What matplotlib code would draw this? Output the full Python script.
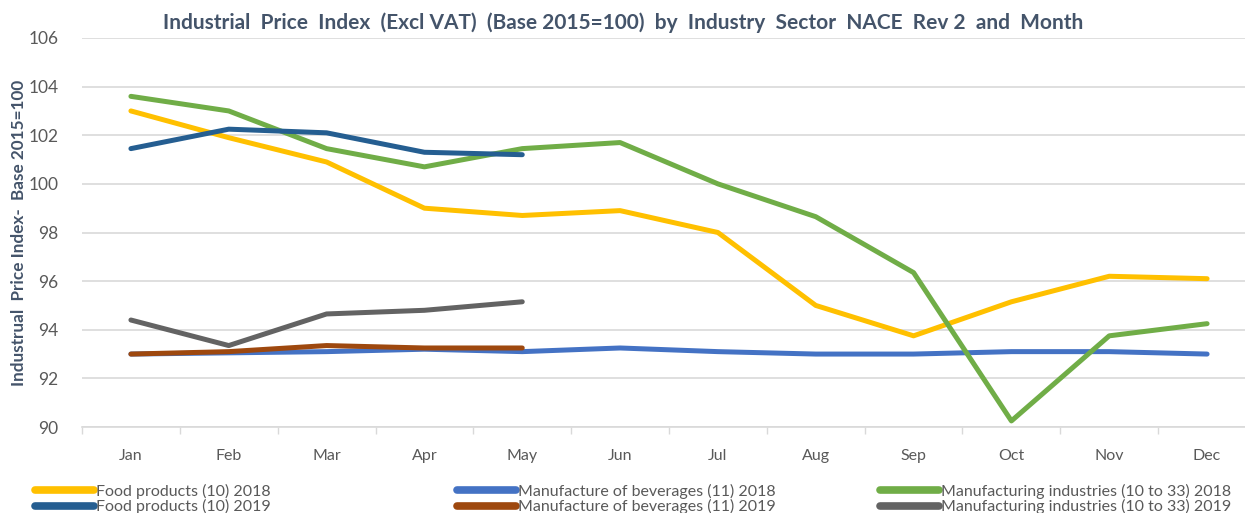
import matplotlib.pyplot as plt
import numpy as np
from matplotlib.lines import Line2D

plt.rcParams['font.family'] = ['Lato', 'DejaVu Sans']

months = ["Jan", "Feb", "Mar", "Apr", "May", "Jun", "Jul", "Aug", "Sep", "Oct", "Nov", "Dec"]

food_2018 = [103.0, 101.9, 100.9, 99.0, 98.7, 98.9, 98.0, 95.0, 93.75, 95.15, 96.2, 96.1]
bev_2018 = [93.0, 93.05, 93.1, 93.2, 93.1, 93.25, 93.1, 93.0, 93.0, 93.1, 93.1, 93.0]
manu_2018 = [103.6, 103.0, 101.45, 100.7, 101.45, 101.7, 100.0, 98.65, 96.35, 90.25, 93.75, 94.25]
food_2019 = [101.45, 102.25, 102.1, 101.3, 101.2]
bev_2019 = [93.0, 93.1, 93.35, 93.25, 93.25]
manu_2019 = [94.4, 93.35, 94.65, 94.8, 95.15]

series = [
    ("Food products (10) 2018", food_2018, "#FFC000"),
    ("Food products (10) 2019", food_2019, "#255E91"),
    ("Manufacture of beverages (11) 2018", bev_2018, "#4472C4"),
    ("Manufacture of beverages (11) 2019", bev_2019, "#9E480E"),
    ("Manufacturing industries (10 to 33) 2018", manu_2018, "#70AD47"),
    ("Manufacturing industries (10 to 33) 2019", manu_2019, "#636363"),
]
# draw order (back to front) roughly as in the original chart
draw_order = [0, 2, 4, 1, 3, 5]

fig = plt.figure(figsize=(12.45, 5.13), dpi=100)
W, H = 1245, 513
ax = fig.add_axes([82 / W, 1 - 427 / H, (1256 - 82) / W, (427 - 38) / H])

x = np.arange(len(months))
for i in draw_order:
    label, vals, color = series[i]
    ax.plot(x[:len(vals)], vals, color=color, lw=3.6, solid_capstyle="round",
            solid_joinstyle="round", zorder=3)

ax.set_xlim(-0.5, 11.5)
ax.set_ylim(90, 106)
ax.set_yticks(np.arange(90, 107, 2))
ax.set_xticks(x)
ax.set_xticklabels(months)
ax.set_xticks(np.arange(-0.5, 12, 1), minor=True)
ax.tick_params(axis="x", which="major", length=0, pad=16, labelsize=11.5, labelcolor="#595959")
ax.tick_params(axis="x", which="minor", length=5, width=1, color="#D9D9D9", direction="out")
ax.tick_params(axis="y", length=0, pad=17, labelsize=12.5, labelcolor="#595959")
ax.grid(axis="y", color="#D9D9D9", lw=1.2, zorder=0)
for side in ["top", "right", "left"]:
    ax.spines[side].set_visible(False)
ax.spines["bottom"].set_color("#D9D9D9")
ax.spines["bottom"].set_linewidth(1.2)

ax.set_ylabel("Industrual  Price Index-  Base 2015=100", fontsize=12.3, fontweight="bold",
              color="#44546A")
ax.yaxis.set_label_coords(-55 / (1256 - 82), 0.5)

fig.text(623 / W, 1 - 23 / H, "Industrial  Price  Index  (Excl VAT)  (Base 2015=100)  by  Industry  Sector  NACE  Rev 2  and  Month",
         ha="center", va="center", fontsize=15, fontweight="bold", color="#44546A")

# legend: three columns of two entries each
col_x = [35, 457, 880]
for c in range(3):
    handles = [Line2D([], [], color=series[2 * c + k][2], lw=5.5, solid_capstyle="round")
               for k in range(2)]
    labels = [series[2 * c + k][0] for k in range(2)]
    fig.legend(handles, labels, loc="upper left", bbox_to_anchor=(col_x[c] / W, 1 - 484 / H),
               frameon=False, fontsize=11.5, handlelength=3.7, handletextpad=0.15,
               labelspacing=0.0, borderpad=0, borderaxespad=0, labelcolor="#595959")

fig.savefig("out.png", dpi=100)
